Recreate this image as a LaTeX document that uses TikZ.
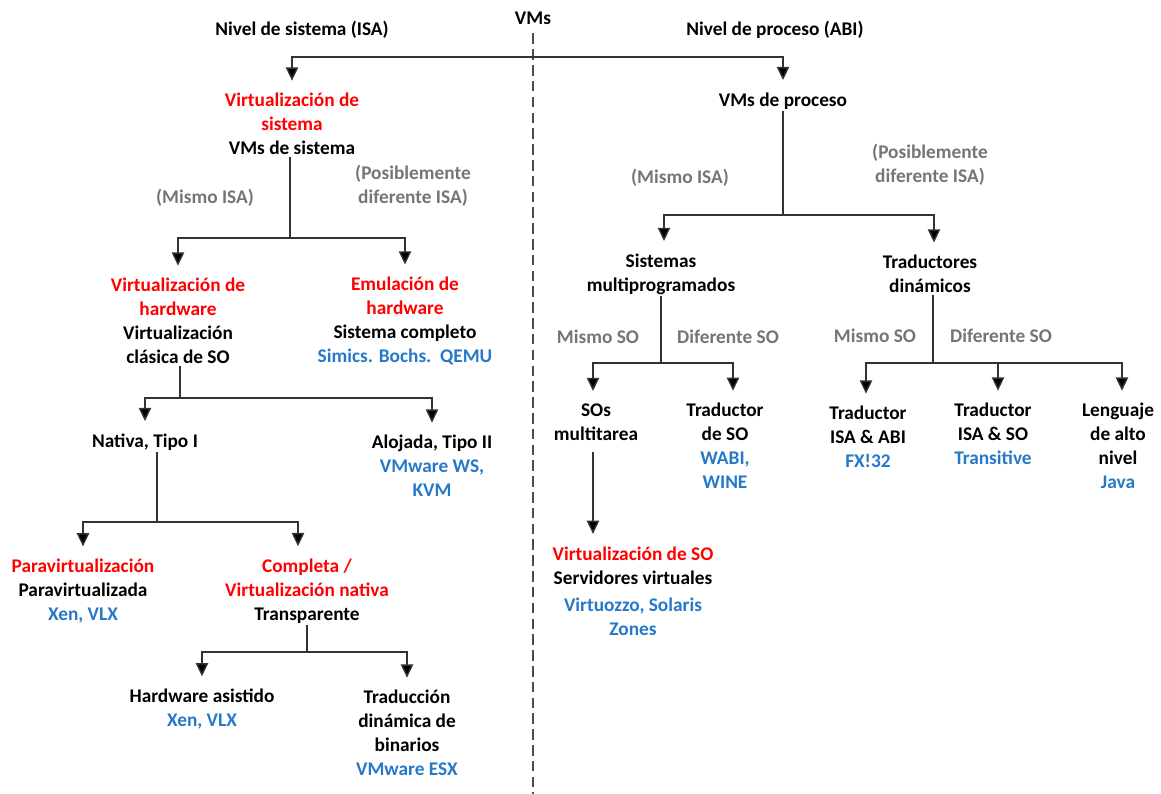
\documentclass[tikz,border=0pt]{standalone}
\usepackage{fontspec}
\setmainfont{Carlito}
\usetikzlibrary{arrows.meta}

\definecolor{vred}{RGB}{255,0,0}
\definecolor{vblue}{RGB}{38,120,200}
\definecolor{vgray}{RGB}{118,116,116}

\begin{document}
\begin{tikzpicture}[x=0.02cm,y=-0.02cm]

\tikzset{
    item/.style={
        align=center,
        inner sep=1pt,
        font=\fontsize{11}{13.6}\selectfont\bfseries,
    },
    note/.style={
        item,
        text=vgray,
    },
    link/.style={
        draw=black!80,
        line width=0.8pt,
    },
    arr/.style={
        link,
        -{Triangle[width=7pt,length=7.5pt,fill=black]},
        shorten >=6pt,
    },
    divider/.style={
        draw=black!70,
        line width=0.9pt,
        dash pattern=on 6pt off 3pt,
    }
}

\useasboundingbox (0,0) rectangle (1161,794);

% heads
\node(vms) [item] at (533,18) {VMs};
\node(nsis) [item] at (302,30) {Nivel de sistema (ISA)};
\node(nproc) [item] at (775,30) {Nivel de proceso (ABI)};
\coordinate (top) at (533,57);
\coordinate (bot) at (533,794);
\draw[divider] ([yshift=-4pt]vms.south) -- (bot);

% left side: system VMs
\node(vsis) [item] at (292,124) {\textcolor{vred}{Virtualización de}\\\textcolor{vred}{sistema}\\VMs de sistema};
\node(misA) [note] at (205,198) {(Mismo ISA)};
\node(posA) [note] at (413,186) {(Posiblemente\\diferente ISA)};

\node(vhw) [item] at (178,321) {\textcolor{vred}{Virtualización de}\\\textcolor{vred}{hardware}\\Virtualización\\clásica de SO};
\node(emu) [item] at (405,321) {\textcolor{vred}{Emulación de}\\\textcolor{vred}{hardware}\\Sistema completo\\\textcolor{vblue}{Simics. Bochs.\ \ QEMU}};

\node(nat) [item] at (145,442) {Nativa, Tipo I};
\node(aloj) [item] at (432,466) {Alojada, Tipo II\\\textcolor{vblue}{VMware WS,}\\\textcolor{vblue}{KVM}};

\node(para) [item] at (83,591) {\textcolor{vred}{Paravirtualización}\\Paravirtualizada\\\textcolor{vblue}{Xen, VLX}};
\node(compl) [item] at (307,591) {\textcolor{vred}{Completa /}\\\textcolor{vred}{Virtualización nativa}\\Transparente};

\node(hwas) [item] at (202,709) {Hardware asistido\\\textcolor{vblue}{Xen, VLX}};
\node(tdb) [item] at (407,733) {Traducción\\dinámica de\\binarios\\\textcolor{vblue}{VMware ESX}};

% right side: process VMs
\node(vproc) [item] at (783,101) {VMs de proceso};
\node(misB) [note] at (680,178) {(Mismo ISA)};
\node(posB) [note] at (930,165) {(Posiblemente\\diferente ISA)};

\node(smp) [item] at (661,274) {Sistemas\\multiprogramados};
\node(tdin) [item] at (930,274) {Traductores\\dinámicos};

\node(msoA) [note] at (598,337) {Mismo SO};
\node(dsoA) [note] at (728,337) {Diferente SO};
\node(msoB) [note] at (875,336) {Mismo SO};
\node(dsoB) [note] at (1001,336) {Diferente SO};

\node(somt) [item] at (596,422) {SOs\\multitarea};
\node(tso) [item] at (725,446) {Traductor\\de SO\\\textcolor{vblue}{WABI,}\\\textcolor{vblue}{WINE}};
\node(tia) [item] at (868,437) {Traductor\\ISA \& ABI\\\textcolor{vblue}{FX!32}};
\node(tis) [item] at (993,434) {Traductor\\ISA \& SO\\\textcolor{vblue}{Transitive}};
\node(lang) [item] at (1118,446) {Lenguaje\\de alto\\nivel\\\textcolor{vblue}{Java}};

\node(vso) [item] at (633,591) {\textcolor{vred}{Virtualización de SO}\\Servidores virtuales\\[2pt]\textcolor{vblue}{Virtuozzo, Solaris}\\\textcolor{vblue}{Zones}};

% junctions
\coordinate (j1) at (290,238);
\coordinate (j2) at (180,398);
\coordinate (j3) at (157,522);
\coordinate (j4) at (307,652);
\coordinate (j5) at (783,215);
\coordinate (j6) at (661,363);
\coordinate (j7) at (933,363);
\coordinate (j8) at (593,452);

% connectors
\draw[arr] (top) -| (vsis.north);
\draw[arr] (top) -| (vproc.north);

\draw[link] (vsis.south -| j1) -- (j1);
\draw[arr] (j1) -| (vhw.north);
\draw[arr] (j1) -| (emu.north);

\draw[link] (vhw.south -| j2) -- (j2);
\draw[arr] (j2) -| (nat.north);
\draw[arr] (j2) -| (aloj.north);

\draw[link] (nat.south -| j3) -- (j3);
\draw[arr] (j3) -| (para.north);
\draw[arr] (j3) -| ([xshift=-9*0.02cm]compl.north);

\draw[link] (compl.south -| j4) -- (j4);
\draw[arr] (j4) -| (hwas.north);
\draw[arr] (j4) -| (tdb.north);

\draw[link] (vproc.south -| j5) -- (j5);
\draw[arr] (j5) -| ([xshift=3*0.02cm]smp.north);
\draw[arr] (j5) -| ([xshift=4*0.02cm]tdin.north);

\draw[link] (smp.south -| j6) -- (j6);
\draw[arr] (j6) -| ([xshift=-3*0.02cm]somt.north);
\draw[arr] (j6) -| ([xshift=8*0.02cm]tso.north);

\draw[link] (tdin.south -| j7) -- (j7);
\draw[arr] (j7) -| ([xshift=-2*0.02cm]tia.north);
\draw[arr] (j7) -| ([xshift=5*0.02cm]tis.north);
\draw[arr] (j7) -| ([xshift=4*0.02cm]lang.north);

\draw[arr] (j8) -- (vso.north -| j8);

\end{tikzpicture}
\end{document}
